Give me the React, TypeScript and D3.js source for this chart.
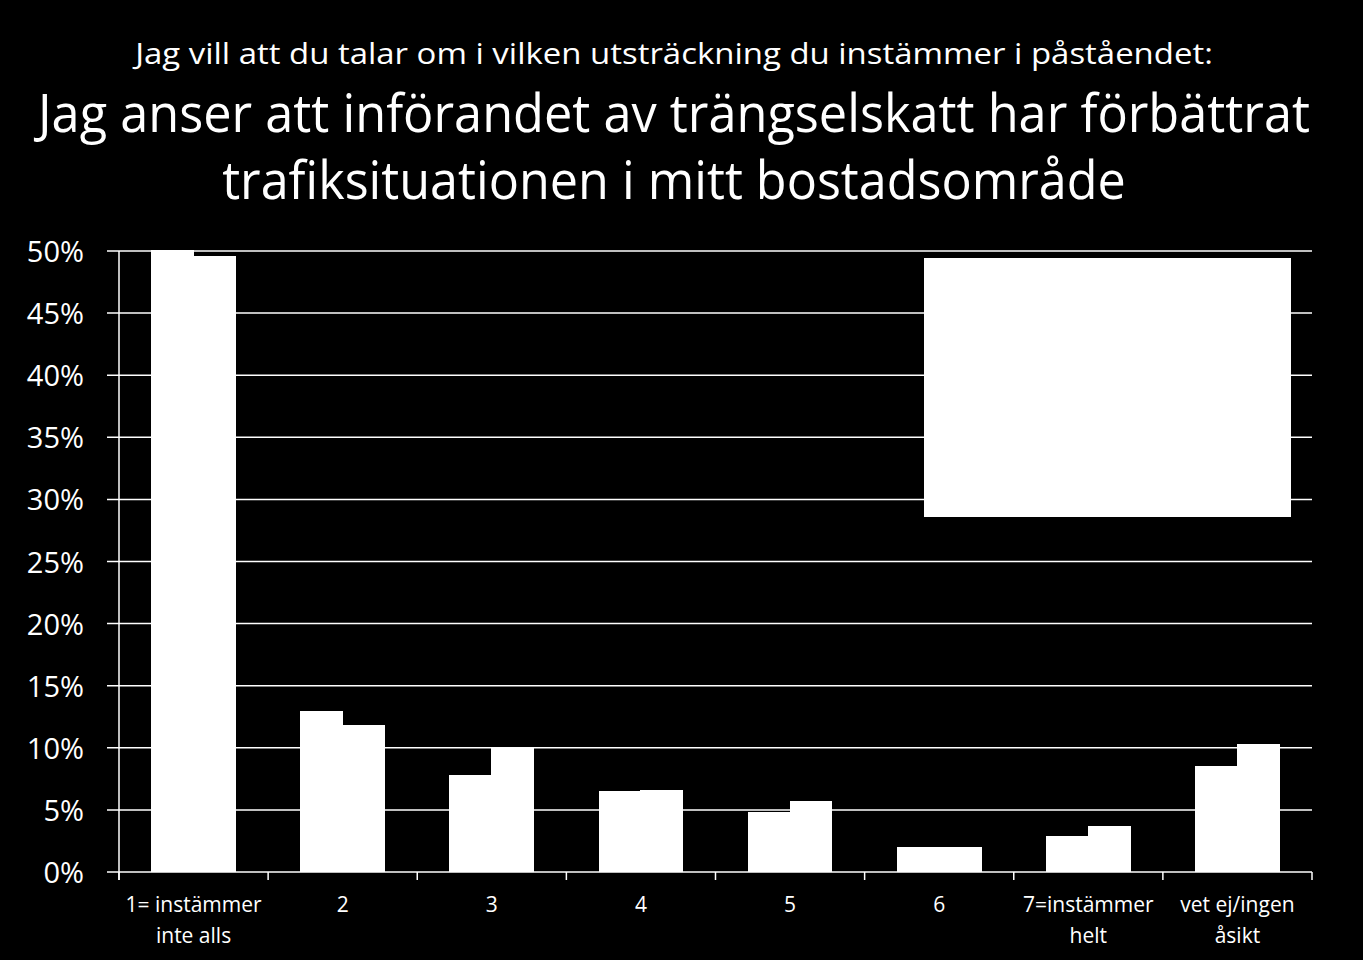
import React, { useLayoutEffect, useRef, useState } from "react";
import * as d3 from "d3";

const categories = [
  ["1= instämmer", "inte alls"],
  ["2"],
  ["3"],
  ["4"],
  ["5"],
  ["6"],
  ["7=instämmer", "helt"],
  ["vet ej/ingen", "åsikt"],
];
const series1 = [50.1, 13.0, 7.8, 6.5, 4.8, 2.0, 2.9, 8.5];
const series2 = [49.6, 11.8, 10.0, 6.6, 5.7, 2.0, 3.7, 10.3];
const yTicks = [0, 5, 10, 15, 20, 25, 30, 35, 40, 45, 50];
const titleLine1 = "Jag vill att du talar om i vilken utsträckning du instämmer i påståendet:";
const titleLine2 = "Jag anser att införandet av trängselskatt har förbättrat";
const titleLine3 = "trafiksituationen i mitt bostadsområde";

const W = 1363;
const H = 960;
const left = 119;
const right = 1312;
const top = 251;
const bottom = 872;
const font = "'Open Sans', 'Noto Sans', sans-serif";

function FitText({ cx, y, size, width, children }: { cx: number; y: number; size: number; width: number; children: string }) {
  const ref = useRef<SVGTextElement>(null);
  const [sx, setSx] = useState(1);
  useLayoutEffect(() => {
    if (ref.current) {
      const w = ref.current.getComputedTextLength();
      if (w > 0) setSx(width / w);
    }
  }, [width, children]);
  return (
    <g transform={`translate(${cx},${y}) scale(${sx},1)`}>
      <text ref={ref} x={0} y={0} fill="#fff" fontFamily={font} fontSize={size} textAnchor="middle">
        {children}
      </text>
    </g>
  );
}

export default function App() {
  const y = d3.scaleLinear().domain([0, 50]).range([bottom, top]);
  const x = d3
    .scaleBand<number>()
    .domain(d3.range(categories.length))
    .range([left, right])
    .paddingInner(0)
    .paddingOuter(0);
  const groupW = x.bandwidth() * 0.568;
  const inner = d3
    .scaleBand<number>()
    .domain([0, 1])
    .range([0, groupW]);
  const series = [series1, series2];

  return (
    <div style={{ position: "absolute", left: 0, top: 0, width: W, height: H, background: "#000" }}>
      <svg width={W} height={H} style={{ display: "block", background: "#000" }}>
        <rect x={0} y={0} width={W} height={H} fill="#000" />
        <FitText cx={674} y={64} size={30} width={1078}>{titleLine1}</FitText>
        <FitText cx={674} y={132} size={53} width={1272}>{titleLine2}</FitText>
        <FitText cx={674} y={199} size={53} width={904}>{titleLine3}</FitText>

        {yTicks.map((t) => (
          <g key={t}>
            <line x1={107} x2={right} y1={y(t)} y2={y(t)} stroke="#fff" strokeWidth={1.5} />
            <text x={84} y={y(t) + 11} fill="#fff" fontFamily={font} fontSize={29} textAnchor="end">
              {t}%
            </text>
          </g>
        ))}
        <line x1={left} x2={left} y1={top} y2={bottom + 8} stroke="#fff" strokeWidth={1.5} />
        {d3.range(categories.length + 1).map((i) => {
          const xx = i < categories.length ? (x(i) as number) : right;
          return <line key={i} x1={xx} x2={xx} y1={bottom} y2={bottom + 8} stroke="#fff" strokeWidth={1.5} />;
        })}

        {categories.map((c, i) => {
          const gx = (x(i) as number) + (x.bandwidth() - groupW) / 2;
          return (
            <g key={i}>
              {series.map((s, k) => (
                <rect
                  key={k}
                  x={gx + (inner(k) as number) - (k === 1 ? 0.5 : 0)}
                  y={y(s[i])}
                  width={inner.bandwidth() + 0.5}
                  height={bottom - y(s[i])}
                  fill="#fff"
                  shapeRendering="crispEdges"
                />
              ))}
              {c.map((line, j) => (
                <text
                  key={j}
                  x={(x(i) as number) + x.bandwidth() / 2}
                  y={912 + j * 31}
                  fill="#fff"
                  fontFamily={font}
                  fontSize={21}
                  textAnchor="middle"
                >
                  {line}
                </text>
              ))}
            </g>
          );
        })}

        <rect x={924} y={258} width={367} height={259} fill="#fff" />
      </svg>
    </div>
  );
}
